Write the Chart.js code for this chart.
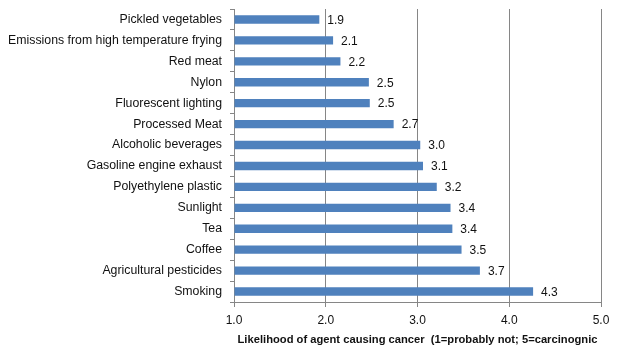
<!DOCTYPE html>
<html>
<head>
<meta charset="utf-8">
<script src="https://cdn.jsdelivr.net/npm/chart.js@4/dist/chart.umd.min.js"></script>
<style>
  html, body { margin: 0; padding: 0; background: #fff; }
  #wrap { width: 619px; height: 358px; }
</style>
</head>
<body>
<div id="wrap"><canvas id="chart" width="619" height="358"></canvas></div>
<script>
// Agents and their rated likelihood of causing cancer
const agents = [
  "Pickled vegetables",
  "Emissions from high temperature frying",
  "Red meat",
  "Nylon",
  "Fluorescent lighting",
  "Processed Meat",
  "Alcoholic beverages",
  "Gasoline engine exhaust",
  "Polyethylene plastic",
  "Sunlight",
  "Tea",
  "Coffee",
  "Agricultural pesticides",
  "Smoking"
];
const likelihood = [1.93, 2.08, 2.16, 2.47, 2.48, 2.74, 3.03, 3.06, 3.21, 3.36, 3.38, 3.48, 3.68, 4.26];
const xTicks = [1, 2, 3, 4, 5];
const xTitle = "Likelihood of agent causing cancer  (1=probably not; 5=carcinognic";

const gridColor = "#868686";
const fontFamily = "'Liberation Sans', Arial, sans-serif";

// ---------------------------------------------------------
// Value labels drawn to the right of each bar
// ---------------------------------------------------------
const valueLabels = {
  id: "valueLabels",
  afterDatasetsDraw(chart) {
    const ctx = chart.ctx;
    const meta = chart.getDatasetMeta(0);
    ctx.save();
    ctx.font = "12px " + fontFamily;
    ctx.fillStyle = "#111";
    ctx.textAlign = "left";
    ctx.textBaseline = "middle";
    meta.data.forEach((bar, i) => {
      ctx.fillText(likelihood[i].toFixed(1), bar.x + 8, bar.y + 1);
    });
    ctx.restore();
  }
};

new Chart(document.getElementById("chart"), {
  type: "bar",
  data: {
    labels: agents,
    datasets: [{
      data: likelihood,
      backgroundColor: "#4F81BD",
      borderWidth: 0,
      barPercentage: 0.4,
      categoryPercentage: 1.0,
      base: 1
    }]
  },
  options: {
    indexAxis: "y",
    responsive: false,
    animation: false,
    layout: { padding: { top: 9, right: 18, left: 0, bottom: 0 } },
    plugins: {
      legend: { display: false },
      tooltip: { enabled: false }
    },
    scales: {
      x: {
        min: 1,
        max: 5,
        afterBuildTicks: axis => { axis.ticks = xTicks.map(v => ({ value: v })); },
        afterFit: axis => { axis.height = 56; },
        grid: { color: gridColor, lineWidth: 1, tickLength: 5, drawTicks: true },
        border: { color: gridColor, width: 1 },
        ticks: {
          padding: 6,
          color: "#111",
          font: { family: fontFamily, size: 12 },
          callback: v => Number(v).toFixed(1)
        },
        title: {
          display: true,
          text: xTitle,
          color: "#111",
          font: { family: fontFamily, size: 11.2, weight: "bold" },
          padding: { top: 4, bottom: 11 }
        }
      },
      y: {
        // fixed width, and no extra label padding above/below the plot
        afterFit: axis => {
          axis.width = 234;
          axis.paddingTop = 0;
          axis.paddingBottom = 0;
        },
        grid: { drawOnChartArea: false, color: gridColor, tickLength: 4, offset: true },
        border: { color: gridColor, width: 1 },
        ticks: {
          autoSkip: false,
          padding: 8,
          color: "#111",
          font: { family: fontFamily, size: 12.3 }
        }
      }
    }
  },
  plugins: [valueLabels]
});
</script>
</body>
</html>
